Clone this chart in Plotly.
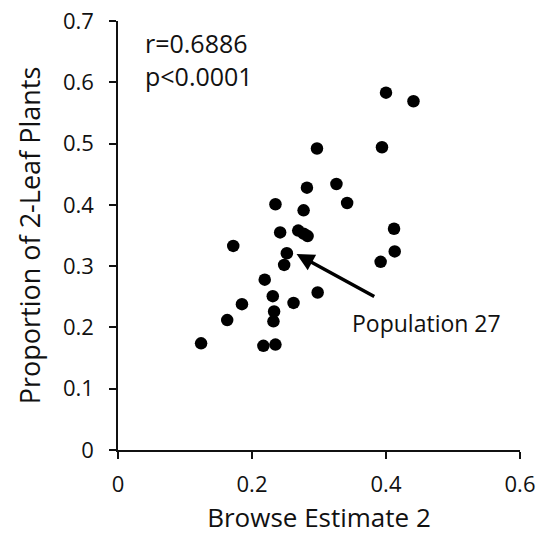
import plotly.graph_objects as go

# Data
browse_estimate = [0.400, 0.441, 0.297, 0.394, 0.326, 0.282, 0.342, 0.235, 0.277, 0.242,
                   0.269, 0.277, 0.283, 0.412, 0.413, 0.392, 0.172, 0.252, 0.248, 0.219,
                   0.298, 0.231, 0.262, 0.185, 0.233, 0.232, 0.163, 0.124, 0.217, 0.235]
prop_2leaf = [0.583, 0.569, 0.492, 0.494, 0.434, 0.428, 0.403, 0.401, 0.391, 0.355,
              0.358, 0.353, 0.349, 0.361, 0.324, 0.307, 0.333, 0.321, 0.302, 0.278,
              0.257, 0.251, 0.240, 0.238, 0.226, 0.210, 0.212, 0.174, 0.170, 0.172]

x_ticks = [0, 0.2, 0.4, 0.6]
x_ticklabels = ["0", "0.2", "0.4", "0.6"]
y_ticks = [0, 0.1, 0.2, 0.3, 0.4, 0.5, 0.6, 0.7]
y_ticklabels = ["0", "0.1", "0.2", "0.3", "0.4", "0.5", "0.6", "0.7"]

stats_lines = ["r=0.6886", "p<0.0001"]
label_text = "Population 27"
pop27 = (0.2665, 0.3197)      # arrow head (point of Population 27)
pop27_tail = (0.3847, 0.249)  # arrow tail

FONT = "Open Sans"

fig = go.Figure(
    go.Scatter(
        x=browse_estimate, y=prop_2leaf, mode="markers",
        marker=dict(size=12.5, color="black"),
        hoverinfo="skip", showlegend=False,
    )
)

axis_common = dict(
    showline=True, linecolor="#111", linewidth=1.5,
    ticks="outside", ticklen=7, tickwidth=1.5, tickcolor="#111",
    showgrid=False, zeroline=False, automargin=False,
    tickfont=dict(family=FONT, size=22, color="#111"),
)

fig.update_layout(
    width=538, height=535,
    margin=dict(l=118, r=18, t=21, b=85),
    paper_bgcolor="white", plot_bgcolor="white",
    font=dict(family=FONT, color="#111"),
    xaxis=dict(
        range=[0, 0.6], tickvals=x_ticks, ticktext=x_ticklabels,
        ticklabelstandoff=7,
        title=dict(text="Browse Estimate 2", font=dict(family=FONT, size=26, color="#111"), standoff=14),
        **axis_common,
    ),
    yaxis=dict(
        range=[0, 0.7], tickvals=y_ticks, ticktext=y_ticklabels,
        ticklabelstandoff=11,
        title=dict(text="Proportion of 2-Leaf Plants", font=dict(family=FONT, size=27, color="#111"), standoff=14),
        **axis_common,
    ),
)

fig.add_annotation(x=0.037, y=0.638, xref="x", yref="y", text="<br>".join(stats_lines),
                   showarrow=False, xanchor="left", yanchor="middle", align="left",
                   font=dict(family=FONT, size=25, color="#111"))
fig.add_annotation(x=0.346, y=0.207, xref="x", yref="y", text=label_text,
                   showarrow=False, xanchor="left", yanchor="middle",
                   font=dict(family=FONT, size=23, color="#111"))
fig.add_annotation(x=pop27[0], y=pop27[1], xref="x", yref="y",
                   ax=pop27_tail[0], ay=pop27_tail[1], axref="x", ayref="y",
                   text="", showarrow=True, arrowhead=2, arrowsize=1,
                   arrowwidth=3.5, arrowcolor="black")

fig.write_html("out.html", config={"displayModeBar": False},
               post_script="document.body.style.margin='0';")
